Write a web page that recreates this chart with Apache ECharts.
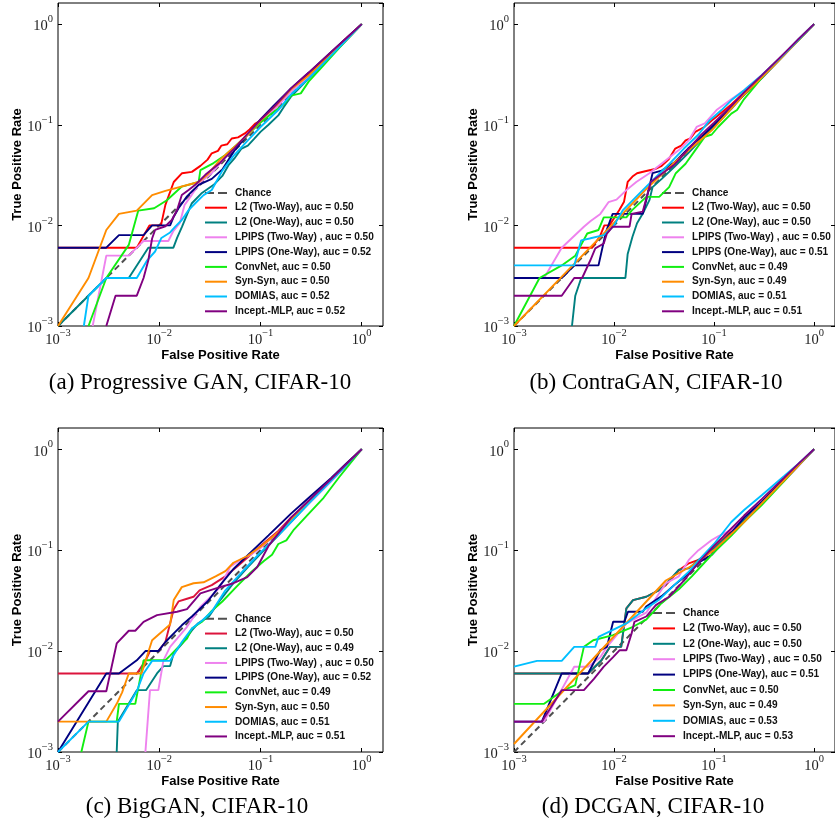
<!DOCTYPE html>
<html><head><meta charset="utf-8">
<script src="https://cdn.jsdelivr.net/npm/echarts@6/dist/echarts.min.js"></script>
<style>html,body{margin:0;padding:0;background:#fff}#c{width:835px;height:824px}</style>
</head><body><div id="c"></div>
<script>
// ---------- labels ----------
const methodNames = ['L2 (Two-Way)','L2 (One-Way)','LPIPS (Two-Way) ','LPIPS (One-Way)','ConvNet','Syn-Syn','DOMIAS','Incept.-MLP'];
const aucA = ['0.50','0.50','0.50','0.52','0.50','0.50','0.52','0.52'];
const aucB = ['0.50','0.50','0.50','0.51','0.49','0.49','0.51','0.51'];
const aucC = ['0.50','0.49','0.50','0.52','0.49','0.50','0.51','0.51'];
const aucD = ['0.50','0.50','0.50','0.51','0.50','0.49','0.53','0.53'];
const captions = ['(a) Progressive GAN, CIFAR-10','(b) ContraGAN, CIFAR-10','(c) BigGAN, CIFAR-10','(d) DCGAN, CIFAR-10'];
const tickExponents = [-3,-2,-1,0];
const chanceLine = [[0.001,0.001],[1,1]];

// ---------- (a) Progressive GAN ----------
const a_l2two = [[0.001,0.006],[0.006,0.006],[0.008,0.010],[0.0104,0.010],[0.0115,0.016],[0.0139,0.027],[0.0168,0.033],[0.021,0.034],[0.0255,0.039],[0.03,0.045],[0.033,0.052],[0.038,0.055],[0.041,0.062],[0.047,0.064],[0.052,0.073],[0.06,0.075],[0.07,0.082],[0.078,0.09],[0.089,0.103],[0.1,0.11],[0.12,0.13],[0.15,0.16],[0.2,0.225],[0.3,0.32],[0.5,0.52],[0.7,0.72],[1,1]];
const a_l2one = [[0.001,0.001],[0.003,0.003],[0.005,0.003],[0.0078,0.006],[0.0138,0.006],[0.015,0.0075],[0.0168,0.0097],[0.0188,0.0128],[0.021,0.0166],[0.0264,0.021],[0.0345,0.0253],[0.042,0.031],[0.0486,0.040],[0.055,0.046],[0.065,0.058],[0.075,0.062],[0.086,0.072],[0.1,0.085],[0.12,0.1],[0.15,0.124],[0.17,0.15],[0.2,0.19],[0.25,0.24],[0.35,0.34],[0.5,0.49],[0.7,0.69],[1,1]];
const a_lpipstwo = [[0.0022,0.001],[0.003,0.005],[0.005,0.005],[0.006,0.006],[0.007,0.007],[0.0123,0.007],[0.0137,0.0087],[0.016,0.0106],[0.0178,0.016],[0.0209,0.020],[0.0255,0.027],[0.033,0.033],[0.045,0.048],[0.07,0.075],[0.1,0.105],[0.15,0.155],[0.2,0.215],[0.3,0.3],[0.5,0.49],[0.7,0.69],[1,1]];
const a_lpipsone = [[0.001,0.006],[0.003,0.006],[0.004,0.008],[0.007,0.008],[0.0085,0.010],[0.0128,0.010],[0.0139,0.0122],[0.0155,0.0148],[0.0188,0.0194],[0.021,0.0217],[0.0245,0.0253],[0.033,0.029],[0.042,0.036],[0.055,0.055],[0.075,0.08],[0.1,0.113],[0.135,0.155],[0.2,0.23],[0.3,0.33],[0.5,0.53],[0.7,0.72],[1,1]];
const a_convnet = [[0.002,0.001],[0.003,0.003],[0.005,0.0064],[0.0062,0.014],[0.0089,0.0148],[0.0119,0.0178],[0.0167,0.0243],[0.0245,0.027],[0.0255,0.0354],[0.0344,0.0416],[0.045,0.05],[0.06,0.065],[0.08,0.085],[0.1,0.105],[0.13,0.13],[0.17,0.16],[0.2,0.195],[0.25,0.205],[0.3,0.27],[0.4,0.37],[0.6,0.58],[1,1]];
const a_synsyn = [[0.001,0.001],[0.002,0.003],[0.003,0.009],[0.004,0.013],[0.006,0.014],[0.0085,0.020],[0.0115,0.022],[0.0245,0.027],[0.03,0.032],[0.04,0.045],[0.055,0.06],[0.075,0.08],[0.1,0.11],[0.15,0.165],[0.2,0.225],[0.3,0.31],[0.5,0.5],[0.7,0.69],[1,1]];
const a_domias = [[0.0018,0.001],[0.002,0.002],[0.003,0.003],[0.006,0.003],[0.0076,0.0045],[0.0091,0.0055],[0.0105,0.0075],[0.0128,0.0085],[0.0144,0.0097],[0.0167,0.0113],[0.0195,0.0142],[0.0227,0.0166],[0.0274,0.020],[0.033,0.0225],[0.042,0.035],[0.055,0.05],[0.075,0.07],[0.1,0.095],[0.15,0.14],[0.2,0.2],[0.3,0.29],[0.5,0.49],[0.7,0.69],[1,1]];
const a_incept = [[0.003,0.001],[0.0037,0.002],[0.006,0.002],[0.007,0.003],[0.0078,0.0045],[0.0085,0.0074],[0.0091,0.009],[0.0115,0.0098],[0.0133,0.0113],[0.015,0.0142],[0.0167,0.020],[0.0195,0.0225],[0.0227,0.0253],[0.0285,0.0318],[0.04,0.042],[0.055,0.058],[0.075,0.082],[0.1,0.112],[0.135,0.15],[0.2,0.23],[0.3,0.33],[0.5,0.53],[0.7,0.72],[1,1]];

// ---------- (b) ContraGAN ----------
const b_l2two = [[0.001,0.006],[0.006,0.006],[0.0072,0.0077],[0.008,0.010],[0.009,0.010],[0.0113,0.0142],[0.0126,0.0172],[0.0137,0.027],[0.0153,0.0306],[0.017,0.033],[0.0205,0.0345],[0.0258,0.0363],[0.030,0.039],[0.035,0.045],[0.041,0.058],[0.047,0.062],[0.052,0.07],[0.058,0.073],[0.065,0.085],[0.08,0.095],[0.1,0.115],[0.15,0.16],[0.2,0.21],[0.3,0.3],[0.5,0.5],[0.7,0.7],[1,1]];
const b_l2one = [[0.0038,0.001],[0.0041,0.002],[0.0047,0.003],[0.013,0.003],[0.0137,0.0052],[0.0153,0.0077],[0.017,0.0105],[0.0194,0.0131],[0.0226,0.0178],[0.0243,0.024],[0.03,0.029],[0.04,0.038],[0.055,0.052],[0.075,0.072],[0.1,0.095],[0.15,0.145],[0.2,0.2],[0.3,0.29],[0.5,0.49],[0.7,0.7],[1,1]];
const b_lpipstwo = [[0.001,0.003],[0.002,0.003],[0.003,0.006],[0.005,0.0097],[0.0058,0.011],[0.0073,0.013],[0.0088,0.017],[0.0106,0.018],[0.0133,0.0224],[0.0167,0.027],[0.0226,0.033],[0.033,0.0445],[0.0445,0.056],[0.056,0.070],[0.067,0.095],[0.081,0.103],[0.106,0.14],[0.15,0.18],[0.2,0.22],[0.3,0.31],[0.5,0.5],[0.7,0.7],[1,1]];
const b_lpipsone = [[0.001,0.003],[0.003,0.003],[0.004,0.004],[0.007,0.004],[0.0083,0.0086],[0.0097,0.013],[0.0194,0.013],[0.021,0.0178],[0.0243,0.033],[0.03,0.035],[0.04,0.042],[0.055,0.058],[0.0755,0.076],[0.1,0.1],[0.15,0.15],[0.2,0.2],[0.3,0.3],[0.5,0.5],[0.7,0.71],[1,1]];
const b_convnet = [[0.001,0.001],[0.0018,0.003],[0.003,0.004],[0.0041,0.005],[0.0054,0.0083],[0.007,0.009],[0.0079,0.012],[0.0133,0.012],[0.015,0.014],[0.021,0.0192],[0.0283,0.0192],[0.0356,0.024],[0.0415,0.033],[0.052,0.041],[0.065,0.056],[0.081,0.076],[0.095,0.08],[0.11,0.095],[0.149,0.129],[0.17,0.14],[0.2,0.18],[0.27,0.257],[0.37,0.376],[0.5,0.5],[0.7,0.69],[1,1]];
const b_synsyn = [[0.001,0.001],[0.009,0.0095],[0.021,0.023],[0.04,0.042],[0.095,0.088],[0.2,0.2],[0.4,0.39],[0.7,0.69],[1,1]];
const b_domias = [[0.001,0.004],[0.004,0.004],[0.0047,0.0071],[0.0057,0.0074],[0.0079,0.008],[0.0098,0.0097],[0.0123,0.0142],[0.018,0.0208],[0.0243,0.028],[0.035,0.04],[0.05,0.058],[0.07,0.08],[0.09,0.11],[0.119,0.14],[0.149,0.175],[0.2,0.22],[0.3,0.31],[0.5,0.5],[0.7,0.7],[1,1]];
const b_incept = [[0.001,0.002],[0.003,0.002],[0.004,0.003],[0.0048,0.003],[0.0058,0.0045],[0.0065,0.0059],[0.0079,0.0066],[0.0085,0.0083],[0.0097,0.0097],[0.0143,0.0097],[0.015,0.013],[0.0194,0.0137],[0.0233,0.027],[0.0305,0.033],[0.04,0.04],[0.055,0.057],[0.075,0.08],[0.1,0.105],[0.15,0.155],[0.2,0.21],[0.3,0.31],[0.5,0.51],[0.7,0.71],[1,1]];

// ---------- (c) BigGAN ----------
const c_l2two = [[0.001,0.006],[0.006,0.006],[0.0073,0.008],[0.0081,0.010],[0.0098,0.010],[0.0115,0.0123],[0.0139,0.026],[0.0155,0.031],[0.0188,0.033],[0.0218,0.0345],[0.025,0.04],[0.033,0.045],[0.045,0.055],[0.06,0.07],[0.08,0.09],[0.1,0.11],[0.15,0.155],[0.2,0.21],[0.3,0.3],[0.5,0.5],[0.7,0.7],[1,1]];
const c_l2one = [[0.0038,0.001],[0.0039,0.002],[0.006,0.0041],[0.0074,0.0041],[0.0095,0.006],[0.011,0.0071],[0.0128,0.0071],[0.0139,0.0095],[0.017,0.012],[0.021,0.016],[0.024,0.0187],[0.031,0.022],[0.04,0.032],[0.054,0.047],[0.075,0.068],[0.1,0.092],[0.15,0.14],[0.2,0.19],[0.3,0.29],[0.5,0.49],[0.7,0.69],[1,1]];
const c_lpipstwo = [[0.0073,0.001],[0.0081,0.0041],[0.0098,0.0041],[0.011,0.0081],[0.0128,0.011],[0.0188,0.0174],[0.0255,0.0274],[0.04,0.043],[0.05,0.068],[0.063,0.08],[0.08,0.09],[0.1,0.105],[0.15,0.15],[0.2,0.2],[0.3,0.29],[0.5,0.48],[0.7,0.68],[1,1]];
const c_lpipsone = [[0.001,0.001],[0.003,0.006],[0.004,0.006],[0.006,0.0081],[0.0073,0.010],[0.0098,0.010],[0.0115,0.0123],[0.0144,0.0155],[0.0167,0.018],[0.021,0.022],[0.03,0.031],[0.04,0.045],[0.054,0.065],[0.08,0.095],[0.12,0.14],[0.2,0.23],[0.3,0.33],[0.5,0.52],[0.7,0.72],[1,1]];
const c_convnet = [[0.0017,0.001],[0.002,0.002],[0.0038,0.002],[0.004,0.003],[0.0058,0.003],[0.007,0.0081],[0.0115,0.0081],[0.0128,0.009],[0.0155,0.011],[0.0188,0.0133],[0.021,0.0167],[0.0264,0.0195],[0.033,0.025],[0.042,0.031],[0.06,0.045],[0.08,0.06],[0.108,0.078],[0.13,0.09],[0.15,0.115],[0.18,0.125],[0.214,0.16],[0.3,0.23],[0.42,0.33],[0.6,0.53],[1,1]];
const c_synsyn = [[0.001,0.002],[0.003,0.002],[0.0038,0.003],[0.0043,0.0039],[0.005,0.006],[0.0067,0.006],[0.0078,0.0098],[0.0085,0.0128],[0.0128,0.0183],[0.0139,0.032],[0.0167,0.043],[0.0218,0.047],[0.0274,0.048],[0.036,0.055],[0.045,0.062],[0.054,0.075],[0.075,0.088],[0.1,0.108],[0.15,0.15],[0.2,0.2],[0.3,0.3],[0.5,0.5],[0.7,0.7],[1,1]];
const c_domias = [[0.001,0.001],[0.002,0.002],[0.004,0.002],[0.006,0.004],[0.007,0.006],[0.0085,0.008],[0.0128,0.008],[0.0167,0.0123],[0.021,0.0167],[0.0264,0.020],[0.033,0.0245],[0.045,0.04],[0.06,0.055],[0.08,0.075],[0.1,0.095],[0.15,0.14],[0.2,0.19],[0.3,0.29],[0.5,0.49],[0.7,0.69],[1,1]];
const c_incept = [[0.001,0.002],[0.002,0.004],[0.003,0.004],[0.0038,0.0119],[0.005,0.0159],[0.0058,0.0159],[0.007,0.0195],[0.0095,0.0227],[0.015,0.0245],[0.0188,0.026],[0.0255,0.0373],[0.037,0.042],[0.054,0.047],[0.074,0.054],[0.093,0.068],[0.12,0.11],[0.2,0.21],[0.3,0.31],[0.5,0.51],[0.7,0.71],[1,1]];

// ---------- (d) DCGAN ----------
const d_l2two = [[0.001,0.006],[0.0055,0.006],[0.0075,0.0081],[0.0091,0.011],[0.0118,0.011],[0.0133,0.0265],[0.0155,0.032],[0.021,0.0345],[0.028,0.040],[0.033,0.045],[0.0445,0.063],[0.056,0.074],[0.07,0.08],[0.1,0.105],[0.15,0.155],[0.2,0.2],[0.3,0.29],[0.5,0.49],[0.7,0.69],[1,1]];
const d_l2one = [[0.001,0.006],[0.0055,0.006],[0.0075,0.0081],[0.0091,0.011],[0.0118,0.011],[0.0133,0.0265],[0.0155,0.032],[0.021,0.0345],[0.028,0.040],[0.033,0.046],[0.0445,0.064],[0.056,0.066],[0.07,0.08],[0.1,0.104],[0.15,0.15],[0.2,0.2],[0.3,0.29],[0.5,0.49],[0.7,0.69],[1,1]];
const d_lpipstwo = [[0.001,0.002],[0.002,0.002],[0.0025,0.003],[0.004,0.007],[0.0055,0.007],[0.0073,0.0087],[0.0085,0.011],[0.0133,0.0188],[0.021,0.024],[0.033,0.047],[0.0445,0.055],[0.056,0.08],[0.07,0.1],[0.095,0.126],[0.11,0.137],[0.15,0.16],[0.2,0.21],[0.3,0.3],[0.5,0.48],[0.7,0.68],[1,1]];
const d_lpipsone = [[0.001,0.002],[0.0019,0.002],[0.003,0.006],[0.0055,0.006],[0.0073,0.0102],[0.0085,0.011],[0.0098,0.0195],[0.0127,0.0195],[0.0138,0.0245],[0.0194,0.0245],[0.021,0.0276],[0.03,0.035],[0.04,0.045],[0.055,0.058],[0.07,0.075],[0.095,0.09],[0.15,0.15],[0.2,0.21],[0.3,0.3],[0.5,0.5],[0.7,0.7],[1,1]];
const d_convnet = [[0.001,0.003],[0.002,0.003],[0.003,0.004],[0.0041,0.0046],[0.005,0.011],[0.0062,0.0128],[0.0098,0.0144],[0.0155,0.0174],[0.021,0.0205],[0.03,0.03],[0.0445,0.041],[0.06,0.055],[0.08,0.075],[0.1,0.095],[0.15,0.14],[0.2,0.19],[0.3,0.28],[0.5,0.48],[0.7,0.69],[1,1]];
const d_synsyn = [[0.001,0.0012],[0.033,0.05],[0.06,0.07],[0.1,0.1],[0.2,0.19],[0.3,0.29],[0.5,0.49],[1,1]];
const d_domias = [[0.001,0.007],[0.0017,0.008],[0.003,0.008],[0.004,0.011],[0.0065,0.011],[0.007,0.0138],[0.0133,0.0188],[0.021,0.0265],[0.028,0.032],[0.04,0.045],[0.055,0.06],[0.075,0.085],[0.1,0.115],[0.149,0.19],[0.2,0.25],[0.3,0.35],[0.5,0.54],[0.7,0.72],[1,1]];
const d_incept = [[0.001,0.002],[0.0019,0.002],[0.003,0.0041],[0.005,0.0041],[0.0063,0.0053],[0.0079,0.007],[0.0098,0.0087],[0.0114,0.0102],[0.0133,0.0102],[0.015,0.0149],[0.016,0.0195],[0.021,0.022],[0.0262,0.0285],[0.0356,0.0345],[0.05,0.05],[0.07,0.075],[0.1,0.11],[0.15,0.165],[0.2,0.22],[0.3,0.32],[0.5,0.52],[0.7,0.72],[1,1]];

// ---------- build ----------
const panelSeries = [
  [a_l2two,a_l2one,a_lpipstwo,a_lpipsone,a_convnet,a_synsyn,a_domias,a_incept],
  [b_l2two,b_l2one,b_lpipstwo,b_lpipsone,b_convnet,b_synsyn,b_domias,b_incept],
  [c_l2two,c_l2one,c_lpipstwo,c_lpipsone,c_convnet,c_synsyn,c_domias,c_incept],
  [d_l2two,d_l2one,d_lpipstwo,d_lpipsone,d_convnet,d_synsyn,d_domias,d_incept]
];
const panelAuc = [aucA,aucB,aucC,aucD];
const baseColors = ['#ff0000','#008080','#ee82ee','#000080','#11ee11','#ff8c00','#00bfff','#800080'];
const chanceColor = '#505050';

const layout = [
  {grid:{left:58,top:3,width:325,height:323}, legend:{left:205,top:185.5,lh:14.8}, cap:[200,383]},
  {grid:{left:514,top:3,width:326.4,height:323}, legend:{left:662,top:185.5,lh:14.8}, cap:[656,383]},
  {grid:{left:58,top:428,width:325,height:324}, legend:{left:205,top:611.5,lh:14.7}, cap:[197,807]},
  {grid:{left:514,top:428,width:326.4,height:324}, legend:{left:653,top:605.3,lh:15.4}, cap:[653,807]}
];
const AXMIN = 0.001, AXMAX = Math.pow(10,0.21);

function powLabel(v){
  const l = Math.log10(v), e = Math.round(l);
  if (Math.abs(l-e) > 1e-6 || tickExponents.indexOf(e) < 0) return '';
  return '{b|10}{s|' + (e<0 ? '\u2212' + (-e) : String(e)) + '}';
}
const rich = {
  b:{fontFamily:'Liberation Serif', fontSize:14.5, color:'#222', lineHeight:20, verticalAlign:'bottom'},
  s:{fontFamily:'Liberation Serif', fontSize:10.5, color:'#222', lineHeight:9, verticalAlign:'top'}
};
const nameStyle = {fontFamily:'Liberation Sans', fontWeight:'bold', fontSize:13, color:'#000'};

const grids=[], xAxes=[], yAxes=[], series=[], legends=[], graphics=[];
const dashIcon = 'path://M0,0h9v2h-9zM13,0h9v2h-9z';

layout.forEach((L,i)=>{
  grids.push(Object.assign({show:true, borderColor:'#000', borderWidth:1, backgroundColor:'transparent'}, L.grid));
  const tickCommon = {show:true, inside:true, length:4, lineStyle:{color:'#000', width:1}};
  xAxes.push({type:'log', logBase:10, gridIndex:i, min:AXMIN, max:AXMAX, position:'bottom',
    axisLine:{show:false}, splitLine:{show:false}, axisTick:tickCommon,
    axisLabel:{formatter:powLabel, rich:rich, margin:2, showMaxLabel:false},
    name:'False Positive Rate', nameLocation:'middle', nameGap:16, nameTextStyle:nameStyle});
  xAxes.push({type:'log', logBase:10, gridIndex:i, min:AXMIN, max:AXMAX, position:'top',
    axisLine:{show:false}, splitLine:{show:false}, axisTick:tickCommon, axisLabel:{show:false}});
  yAxes.push({type:'log', logBase:10, gridIndex:i, min:AXMIN, max:AXMAX, position:'left',
    axisLine:{show:false}, splitLine:{show:false}, axisTick:tickCommon,
    axisLabel:{formatter:powLabel, rich:rich, margin:5, showMaxLabel:false},
    name:'True Positive Rate', nameLocation:'middle', nameGap:34, nameRotate:90, nameTextStyle:nameStyle});
  yAxes.push({type:'log', logBase:10, gridIndex:i, min:AXMIN, max:AXMAX, position:'right',
    axisLine:{show:false}, splitLine:{show:false}, axisTick:tickCommon, axisLabel:{show:false}});

  const colors = baseColors.slice();
  if (i === 2) colors[0] = '#dc143c';
  const legendData = [{name:'Chance', icon:dashIcon, itemStyle:{color:chanceColor}}];
  series.push({type:'line', name:'Chance', xAxisIndex:2*i, yAxisIndex:2*i, data:chanceLine,
    symbol:'none', clip:true, silent:true, z:2,
    lineStyle:{color:chanceColor, width:2, type:[6,4]}, itemStyle:{color:chanceColor}});
  panelSeries[i].forEach((d,k)=>{
    const nm = methodNames[k] + ', auc = ' + panelAuc[i][k];
    legendData.push({name:nm, icon:'rect', itemStyle:{color:colors[k]}});
    series.push({type:'line', name:nm, xAxisIndex:2*i, yAxisIndex:2*i, data:d,
      symbol:'none', clip:true, silent:true, z:3+k,
      lineStyle:{color:colors[k], width:1.9}, itemStyle:{color:colors[k]}});
  });
  legends.push({orient:'vertical', left:L.legend.left, top:L.legend.top, padding:0, itemGap:0,
    itemWidth:22, itemHeight:2, selectedMode:false, data:legendData,
    textStyle:{fontFamily:'Liberation Sans', fontWeight:'bold', fontSize:10.1, color:'#111', lineHeight:L.legend.lh, padding:[0,0,0,3]}});
  graphics.push({type:'text', x:L.cap[0], y:L.cap[1], silent:true,
    style:{text:captions[i], fontFamily:'Liberation Serif', fontSize:23, fill:'#000', align:'center', verticalAlign:'middle', textAlign:'center', textVerticalAlign:'middle'}});
});

const chart = echarts.init(document.getElementById('c'), null, {renderer:'canvas'});
chart.setOption({animation:false, backgroundColor:'#fff', grid:grids, xAxis:xAxes, yAxis:yAxes, series:series, legend:legends, graphic:graphics});
</script></body></html>
